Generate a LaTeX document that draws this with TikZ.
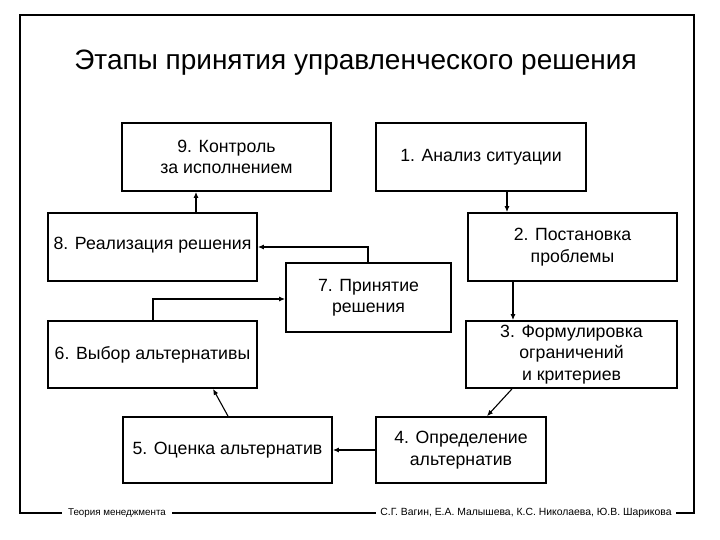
\documentclass[tikz,border=0pt]{standalone}
\usepackage{fontspec}
\setmainfont{Liberation Sans}
\usetikzlibrary{arrows.meta}
\tikzset{
  box/.style={draw, line width=1.8pt, align=center, inner sep=0pt,
    font=\fontsize{17.7}{21.5}\selectfont},
  arr/.style={line width=1.1pt, -{Latex[length=6pt,width=5pt]}},
  foot/.style={fill=white, inner xsep=6pt, inner ysep=2pt, font=\fontsize{9.8}{11}\selectfont}
}
\begin{document}
\begin{tikzpicture}[x=1pt,y=-1pt]
\useasboundingbox (0,0) rectangle (720,540);
% frame
\draw[line width=2pt] (19.5,15) rectangle (694,513);
\node[font=\fontsize{28}{33}\selectfont] (title) at (355.5,63) {Этапы принятия управленческого решения};
% boxes
\node[box, minimum width=209pt, minimum height=68pt] (n9) at (226.5,157) {9. Контроль\\за исполнением};
\node[box, minimum width=210pt, minimum height=68pt] (n1) at (481,157) {1. Анализ ситуации};
\node[box, minimum width=209pt, minimum height=68pt, text depth=8pt] (n8) at (152.5,247) {8. Реализация решения};
\node[box, minimum width=209pt, minimum height=68pt] (n2) at (572.5,247) {2. Постановка\\проблемы};
\node[box, minimum width=165pt, minimum height=69pt] (n7) at (368.5,297.5) {7. Принятие\\решения};
\node[box, minimum width=209pt, minimum height=67pt] (n6) at (152.5,354.5) {6. Выбор альтернативы};
\node[box, minimum width=211pt, minimum height=67pt] (n3) at (571.5,354.5) {3. Формулировка\\ограничений\\и критериев};
\node[box, minimum width=209pt, minimum height=66pt] (n5) at (227.5,450) {5. Оценка альтернатив};
\node[box, minimum width=170pt, minimum height=66pt] (n4) at (461,450) {4. Определение\\альтернатив};
% helper coordinates
\coordinate (x12) at (507,0);
\coordinate (x23) at (513,0);
\coordinate (x34a) at (512,0);
\coordinate (x34b) at (487,0);
\coordinate (x56a) at (228,0);
\coordinate (x56b) at (213,0);
\coordinate (x67) at (153,0);
\coordinate (y67) at (0,299);
\coordinate (x78) at (368,0);
\coordinate (y78) at (0,247);
\coordinate (x89) at (196,0);
% connectors
\draw[arr] (n1.south -| x12) -- (n2.north -| x12);
\draw[arr] (n2.south -| x23) -- (n3.north -| x23);
\draw[arr] (n3.south -| x34a) -- (n4.north -| x34b);
\draw[arr] (n4.west) -- (n5.east);
\draw[arr] (n5.north -| x56a) -- (n6.south -| x56b);
\draw[arr] (n6.north -| x67) |- (n7.west |- y67);
\draw[arr] (n7.north -| x78) |- (n8.east |- y78);
\draw[arr] (n8.north -| x89) -- (n9.south -| x89);
% footer
\node[foot] (f1) at (117,513) {Теория менеджмента};
\node[foot, inner xsep=4pt, font=\fontsize{10.4}{12}\selectfont] (f2) at (526,513) {С.Г. Вагин, Е.А. Малышева, К.С. Николаева, Ю.В. Шарикова};
\end{tikzpicture}
\end{document}
